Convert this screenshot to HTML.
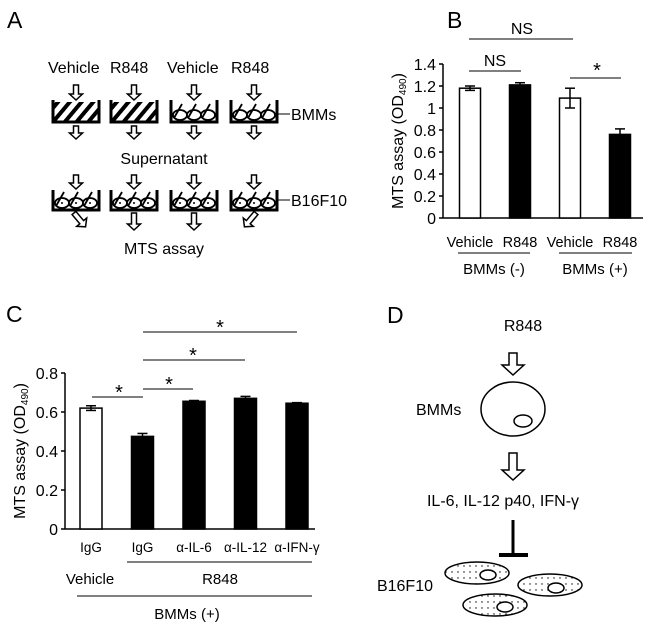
<!DOCTYPE html>
<html><head><meta charset="utf-8"><style>
body{margin:0;background:#fff}
svg text{font-family:"Liberation Sans",sans-serif;fill:#000}
</style></head><body>
<svg id="fig" width="650" height="626" viewBox="0 0 650 626" xmlns="http://www.w3.org/2000/svg">
<defs>
<pattern id="hatch" width="9" height="9" patternUnits="userSpaceOnUse" patternTransform="rotate(40)"><rect width="9" height="9" fill="#fff"/><rect width="4" height="9" fill="#000"/></pattern>
<pattern id="dots" width="6" height="6" patternUnits="userSpaceOnUse"><rect width="6" height="6" fill="#fff"/><circle cx="2" cy="2" r="0.7" fill="#000"/></pattern>
</defs>
<g id="panelA">
<text x="7" y="28" font-size="23">A</text>
<text x="48" y="73" font-size="16">Vehicle</text>
<text x="110" y="73" font-size="16">R848</text>
<text x="167" y="73" font-size="16">Vehicle</text>
<text x="231" y="73" font-size="16">R848</text>
<text x="164" y="164" font-size="16" text-anchor="middle">Supernatant</text>
<text x="164" y="254" font-size="16" text-anchor="middle">MTS assay</text>
<line x1="277" y1="114" x2="290" y2="114" stroke="#000" stroke-width="1"/>
<text x="291" y="120" font-size="16">BMMs</text>
<line x1="277" y1="200" x2="290" y2="200" stroke="#000" stroke-width="1"/>
<text x="291" y="206" font-size="16">B16F10</text>
<g id="aShapes"></g>
</g>
<g id="panelB"></g>
<g id="panelC"></g>
<g id="panelD">
<text x="387" y="323" font-size="23">D</text>
<text x="523" y="331" font-size="16" text-anchor="middle">R848</text>
<ellipse cx="513" cy="409" rx="32" ry="27" fill="none" stroke="#000" stroke-width="1.5"/>
<ellipse cx="523" cy="421" rx="9" ry="6" fill="none" stroke="#000" stroke-width="1.5"/>
<text x="416" y="415" font-size="16">BMMs</text>
<text x="503" y="506" font-size="16" text-anchor="middle">IL-6, IL-12 p40, IFN-γ</text>
<line x1="513" y1="520" x2="513" y2="555" stroke="#000" stroke-width="3"/>
<line x1="499" y1="555" x2="528" y2="555" stroke="#000" stroke-width="4"/>
<g>
<ellipse cx="477" cy="573" rx="32" ry="11" fill="url(#dots)" stroke="#000" stroke-width="1.5"/>
<ellipse cx="488" cy="575" rx="8" ry="5" fill="#fff" stroke="#000" stroke-width="1.5"/>
<ellipse cx="550" cy="585" rx="32" ry="11" fill="url(#dots)" stroke="#000" stroke-width="1.5"/>
<ellipse cx="556" cy="588" rx="8" ry="5" fill="#fff" stroke="#000" stroke-width="1.5"/>
<ellipse cx="495" cy="605" rx="32" ry="11" fill="url(#dots)" stroke="#000" stroke-width="1.5"/>
<ellipse cx="505" cy="607" rx="8" ry="5" fill="#fff" stroke="#000" stroke-width="1.5"/>
</g>
<text x="433" y="591" font-size="16" text-anchor="end">B16F10</text>
<g id="dArrows"></g>
</g>
</svg>
<script>
// Panel B data
const bCategories = ["Vehicle", "R848", "Vehicle", "R848"];
const bValues = [1.18, 1.21, 1.09, 0.76];
const bErrors = [0.02, 0.02, 0.09, 0.05];
const bFills = ["white", "black", "white", "black"];
const bTicks = [0, 0.2, 0.4, 0.6, 0.8, 1, 1.2, 1.4];
const bTickLabels = ["0", "0.2", "0.4", "0.6", "0.8", "1", "1.2", "1.4"];
// Panel C data
const cCategories = ["IgG", "IgG", "α-IL-6", "α-IL-12", "α-IFN-γ"];
const cValues = [0.62, 0.475, 0.655, 0.67, 0.645];
const cErrors = [0.012, 0.015, 0.004, 0.01, 0.003];
const cFills = ["white", "black", "black", "black", "black"];
const cTicks = [0, 0.2, 0.4, 0.6, 0.8];
const cTickLabels = ["0", "0.2", "0.4", "0.6", "0.8"];

const NS = "http://www.w3.org/2000/svg";
function mk(parent, tag, attrs, text) {
  const e = document.createElementNS(NS, tag);
  for (const k in attrs) e.setAttribute(k, attrs[k]);
  if (text !== undefined) e.textContent = text;
  parent.appendChild(e);
  return e;
}
function line(p, x1, y1, x2, y2, w) {
  return mk(p, "line", {x1, y1, x2, y2, stroke: "#000", "stroke-width": w || 1});
}
function txt(p, x, y, s, size, anchor, name) {
  const t = mk(p, "text", {x, y, "font-size": size || 16, "text-anchor": anchor || "middle"}, s);
  
  
  return t;
}
function arrowDown(p, cx, y1, y2, w, hw, hh) {
  w = w || 2.5; hw = hw || 6.5; hh = hh || 6;
  const d = `M${cx - w} ${y1} L${cx + w} ${y1} L${cx + w} ${y2 - hh} L${cx + hw} ${y2 - hh} L${cx} ${y2} L${cx - hw} ${y2 - hh} L${cx - w} ${y2 - hh} Z`;
  const a = mk(p, "path", {d, fill: "#fff", stroke: "#000", "stroke-width": 1.5});
  
  
  return a;
}

function drawBarChart(g, opt) {
  const y = v => opt.y0 - v / opt.vmax * (opt.y0 - opt.yTop);
  line(g, opt.x0, opt.yTop, opt.x0, opt.y0, 1.5);
  line(g, opt.x0, opt.y0, opt.xEnd, opt.y0, 1.5);
  opt.ticks.forEach((t, i) => {
    line(g, opt.x0 - 4, y(t), opt.x0, y(t), 1.5);
    txt(g, opt.x0 - 7, y(t) + 6, opt.tickLabels[i], 16, "end", "y-tick-label");
  });
  const tt = mk(g, "text", {transform: `translate(${opt.titleX},${(opt.y0 + opt.yTop) / 2}) rotate(-90)`, "font-size": 16, "text-anchor": "middle"});
  
  
  tt.appendChild(document.createTextNode("MTS assay (OD"));
  mk(tt, "tspan", {"font-size": 10, dy: 3}, "490");
  mk(tt, "tspan", {dy: -3}, ")");
  opt.values.forEach((v, i) => {
    const cx = opt.firstX + i * opt.step;
    const r = mk(g, "rect", {x: cx - opt.bw / 2, y: y(v), width: opt.bw, height: opt.y0 - y(v), fill: opt.fills[i], stroke: "#000", "stroke-width": 1.5});
    
    
    const e = opt.errors[i];
    line(g, cx, y(v + e), cx, y(v - e), 1.5);
    line(g, cx - 5, y(v + e), cx + 5, y(v + e), 1.5);
    line(g, cx - 5, y(v - e), cx + 5, y(v - e), 1.5);
    txt(g, cx, opt.catY, opt.cats[i], opt.catSize, "middle", "x-category-label");
  });
  return y;
}

// Panel B
const gB = document.getElementById("panelB");
txt(gB, 447, 28, "B", 23, "start", "panel-b-label");
drawBarChart(gB, {x0: 443, y0: 218, yTop: 64, vmax: 1.4, xEnd: 643, ticks: bTicks, tickLabels: bTickLabels,
  values: bValues, errors: bErrors, fills: bFills, cats: bCategories, firstX: 470, step: 50, bw: 21, catY: 247, titleX: 403, catSize: 14.5});
line(gB, 458, 253, 530, 253); line(gB, 559, 253, 632, 253);
txt(gB, 494, 274, "BMMs (-)", 15, "middle", "group-label-bmms-minus");
txt(gB, 595, 274, "BMMs (+)", 15, "middle", "group-label-bmms-plus");
line(gB, 469, 39, 573, 39); txt(gB, 522, 34, "NS", 16, "middle", "sig-ns-top");
line(gB, 469, 71, 521, 71); txt(gB, 495, 66, "NS", 16, "middle", "sig-ns");
line(gB, 570, 78, 621, 78); txt(gB, 597, 77, "*", 20, "middle", "sig-star");

// Panel C
const gC = document.getElementById("panelC");
txt(gC, 6, 322, "C", 23, "start", "panel-c-label");
drawBarChart(gC, {x0: 65, y0: 529, yTop: 373, vmax: 0.8, xEnd: 315, ticks: cTicks, tickLabels: cTickLabels,
  values: cValues, errors: cErrors, fills: cFills, cats: cCategories, firstX: 91, step: 51.5, bw: 22, catY: 552, titleX: 25, catSize: 13.5});
line(gC, 127, 562, 312, 562);
txt(gC, 90, 584, "Vehicle", 15, "middle", "group-label-vehicle");
txt(gC, 220, 584, "R848", 15, "middle", "group-label-r848");
line(gC, 77, 596, 312, 596);
txt(gC, 187, 619, "BMMs (+)", 15, "middle", "group-label-bmms-plus");
line(gC, 92, 397, 143, 397); txt(gC, 119, 399, "*", 20, "middle", "sig-star");
line(gC, 143, 389, 193, 389); txt(gC, 169, 391, "*", 20, "middle", "sig-star");
line(gC, 143, 360, 245, 360); txt(gC, 193, 362, "*", 20, "middle", "sig-star");
line(gC, 143, 332, 297, 332); txt(gC, 220, 334, "*", 20, "middle", "sig-star");

// Panel A shapes
const gA = document.getElementById("aShapes");
const colX = [76, 134, 194, 254];
colX.forEach((cx, i) => {
  arrowDown(gA, cx, 85, 100);
  arrowDown(gA, cx, 126, 139);
  arrowDown(gA, cx, 175, 189);
  if (i === 1 || i === 2) arrowDown(gA, cx, 213, 230);
  const top = mk(gA, "g", {});
  
  
  mk(top, "rect", {x: cx - 23, y: 102, width: 46, height: 19, fill: i < 2 ? "url(#hatch)" : "#fff"});
  if (i >= 2) {
    for (let k = 0; k < 3; k++) mk(top, "ellipse", {cx: cx - 14 + k * 14, cy: 115, rx: 7, ry: 5, fill: "#fff", stroke: "#000", "stroke-width": 1.8});
    for (let k = 0; k < 3; k++) line(top, cx - 20 + k * 14, 118, cx - 12 + k * 14, 104, 1.8);
  }
  mk(top, "path", {d: `M${cx - 23} 100 V122 H${cx + 23} V100`, fill: "none", stroke: "#000", "stroke-width": 3});
  const bot = mk(gA, "g", {});
  
  
  for (let k = 0; k < 3; k++) {
    mk(bot, "ellipse", {cx: cx - 14 + k * 14, cy: 203, rx: 7, ry: 5, fill: "#fff", stroke: "#000", "stroke-width": 1.8});
    mk(bot, "circle", {cx: cx - 14 + k * 14, cy: 203, r: 1, fill: "#000"});
    line(bot, cx - 20 + k * 14, 206, cx - 12 + k * 14, 192, 1.8);
  }
  mk(bot, "path", {d: `M${cx - 23} 190 V210 H${cx + 23} V190`, fill: "none", stroke: "#000", "stroke-width": 3});
});
const da1 = arrowDown(gA, 0, 0, 18); da1.setAttribute("transform", "translate(74,213) rotate(-40)");
const da2 = arrowDown(gA, 0, 0, 18); da2.setAttribute("transform", "translate(256,213) rotate(40)");

// Panel D arrows
const gD = document.getElementById("dArrows");
arrowDown(gD, 513, 353, 375, 4, 11, 10);
arrowDown(gD, 513, 453, 480, 4, 11, 10);
</script>
</body></html>
